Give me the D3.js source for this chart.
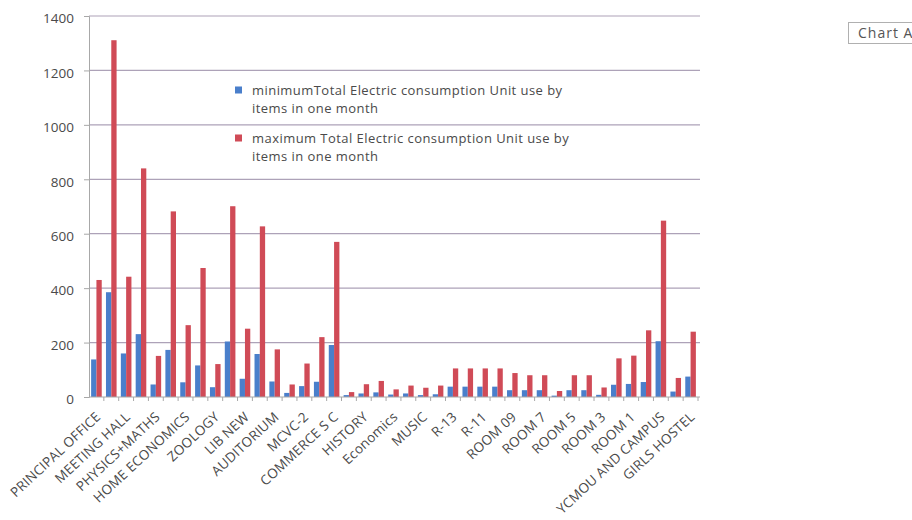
<!DOCTYPE html>
<html>
<head>
<meta charset="utf-8">
<script src="https://cdn.jsdelivr.net/npm/d3@7"></script>
<style>
  html, body { margin: 0; padding: 0; background: #ffffff; }
  svg { display: block; }
  text { font-family: "Open Sans", "Liberation Sans", sans-serif; }
</style>
</head>
<body>
<svg id="chart" width="912" height="520"></svg>
<script>
// ---- data ----
const categories = [
  "PRINCIPAL OFFICE", "OFFICE", "MEETING HALL", "CHEMISTRY", "PHYSICS+MATHS",
  "BOTANY", "HOME ECONOMICS", "ENGLISH", "ZOOLOGY", "LIB OLD",
  "LIB NEW", "COMPUTER LAB", "AUDITORIUM", "MCVC-1", "MCVC-2",
  "COMMERCE", "COMMERCE S C", "GEOGRAPHY", "HISTORY", "MARATHI",
  "Economics", "HINDI", "MUSIC", "R-14", "R-13",
  "R-12", "R-11", "R-10", "ROOM 09", "ROOM 08",
  "ROOM 7", "ROOM 6", "ROOM 5", "ROOM 4", "ROOM 3",
  "ROOM 2", "ROOM 1", "GYMKHANA", "YCMOU AND CAMPUS", "BOYS HOSTEL",
  "GIRLS HOSTEL"
];
const minValues = [138, 385, 160, 231, 46, 173, 54, 116, 36, 204,
                   67, 158, 57, 15, 40, 56, 191, 7, 13, 17,
                   9, 13, 7, 10, 38, 38, 38, 38, 25, 25,
                   25, 5, 25, 25, 8, 45, 48, 55, 205, 20,
                   75];
const maxValues = [430, 1311, 442, 840, 151, 682, 264, 474, 121, 701,
                   251, 627, 175, 46, 123, 220, 570, 18, 47, 59,
                   28, 42, 34, 42, 105, 105, 105, 105, 88, 80,
                   80, 22, 80, 80, 35, 142, 152, 245, 648, 70,
                   240];
const seriesNames = [
  ["minimumTotal Electric consumption Unit use by", "items in one month"],
  ["maximum Total Electric consumption Unit use by", "items in one month"]
];
const yTicks = [0, 200, 400, 600, 800, 1000, 1200, 1400];

// ---- drawing ----
const svg = d3.select("#chart");
const colors = ["#4a7fcb", "#d04b57"];
const textColor = "#4a4a4a";

const x = d3.scaleBand().domain(categories).range([89, 698]).paddingInner(0).paddingOuter(0);
const sub = d3.scaleBand().domain([0, 1]).range([0, x.bandwidth()]).paddingInner(0).paddingOuter(0.4);
const y = d3.scaleLinear().domain([0, 1400]).range([397, 16]);

const plotLeft = 89, plotRight = 700;

// gridlines
svg.append("g").selectAll("line").data(yTicks.slice(1)).join("line")
  .attr("x1", plotLeft).attr("x2", plotRight)
  .attr("y1", d => y(d)).attr("y2", d => y(d))
  .attr("stroke", "#ada2b8").attr("stroke-width", 1.2);

// y axis
const yAxis = svg.append("g").attr("transform", `translate(${plotLeft},0)`)
  .call(d3.axisLeft(y).tickValues(yTicks).tickSize(5).tickPadding(10).tickFormat(d3.format("d")));
yAxis.select(".domain").attr("stroke", "#a8a8a8");
yAxis.selectAll(".tick line").attr("stroke", "#a8a8a8");
yAxis.selectAll(".tick text").attr("fill", textColor)
  .style("font-size", "13.5px").style("font-family", "'Open Sans', sans-serif").attr("dy", "0.5em");

// bars
const groups = svg.append("g").selectAll("g").data(categories).join("g")
  .attr("transform", d => `translate(${x(d)},0)`);
groups.append("rect")
  .attr("x", sub(0)).attr("width", sub.bandwidth())
  .attr("y", (d, i) => y(minValues[i])).attr("height", (d, i) => y(0) - y(minValues[i]))
  .attr("fill", colors[0]);
groups.append("rect")
  .attr("x", sub(1)).attr("width", sub.bandwidth())
  .attr("y", (d, i) => y(maxValues[i])).attr("height", (d, i) => y(0) - y(maxValues[i]))
  .attr("fill", colors[1]);

// x axis line + category boundary ticks
svg.append("line").attr("x1", plotLeft).attr("x2", plotRight)
  .attr("y1", y(0)).attr("y2", y(0)).attr("stroke", "#a8a8a8");
svg.append("g").selectAll("line").data(categories).join("line")
  .attr("x1", d => x(d) + x.bandwidth()).attr("x2", d => x(d) + x.bandwidth())
  .attr("y1", y(0)).attr("y2", y(0) + 4).attr("stroke", "#a8a8a8");

// x labels (every other category shown)
svg.append("g").selectAll("text")
  .data(categories.filter((d, i) => i % 2 === 0)).join("text")
  .attr("transform", d => `translate(${x(d) + x.bandwidth() / 2 + 5},${y(0) + 21}) rotate(-43)`)
  .attr("text-anchor", "end")
  .attr("fill", textColor)
  .style("font-size", "13.5px")
  .style("letter-spacing", "0.2px")
  .text(d => d);

// legend
const legendX = 235;
const legendRows = [90, 138];
seriesNames.forEach((lines, i) => {
  const g = svg.append("g");
  g.append("rect").attr("x", legendX).attr("y", legendRows[i] - 3.5).attr("width", 7).attr("height", 7)
    .attr("fill", colors[i]);
  lines.forEach((t, j) => {
    g.append("text").attr("x", legendX + 17).attr("y", legendRows[i] + 4.5 + j * 18.5)
      .attr("fill", textColor).style("font-size", "13px").style("letter-spacing", "0.45px").text(t);
  });
});

// "Chart Area" tooltip-style box at top right (cut off by the page edge, as in the reference)
svg.append("rect").attr("x", 848.5).attr("y", 22.5).attr("width", 80).attr("height", 21)
  .attr("fill", "#ffffff").attr("stroke", "#b0b0b0");
svg.append("text").attr("x", 858).attr("y", 38).attr("fill", "#555")
  .style("font-size", "14px").style("letter-spacing", "1px").text("Chart Area");
</script>
</body>
</html>
